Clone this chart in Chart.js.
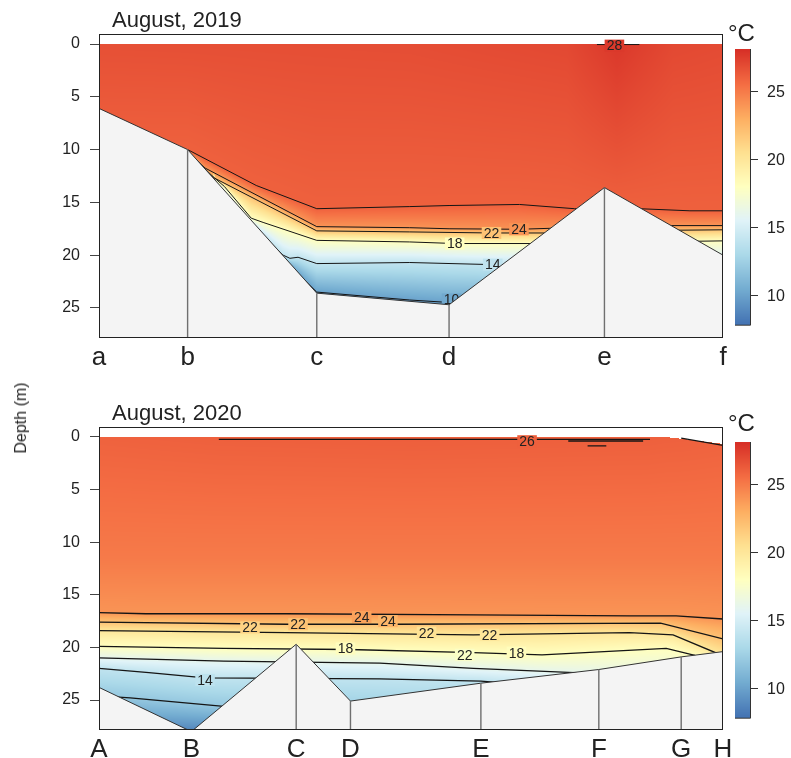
<!DOCTYPE html>
<html>
<head>
<meta charset="utf-8">
<script src="https://cdn.jsdelivr.net/npm/chart.js@4.4.0/dist/chart.umd.min.js"></script>
<style>
  body { margin: 0; background: #fff; width: 791px; height: 758px; position: relative; overflow: hidden;
         font-family: "Liberation Sans", Arial, sans-serif; }
  canvas { position: absolute; left: 0; }
  #c1 { top: 0; }
  #c2 { top: 390px; }
  #ylab { position: absolute; left: 21px; top: 418px; transform: translate(-50%, -50%) rotate(-90deg);
          font-size: 16px; color: #222; white-space: nowrap; }
</style>
</head>
<body>
<canvas id="c1" width="791" height="390"></canvas>
<canvas id="c2" width="791" height="368"></canvas>
<div id="ylab">Depth (m)</div>
<script>
// Distance along each section is scaled 0-100 between the end stations
const depthTicks = [0, 5, 10, 15, 20, 25];
const tempTicks = [10, 15, 20, 25];

// colour scale (RdYlBu, reversed)
const cmapTemps = [8, 10.5, 13, 15.5, 18, 20.5, 23, 25.5, 28];
const cmapColors = ['#4575b4', '#74add1', '#abd9e9', '#e0f3f8', '#ffffbf', '#fee090', '#fdae61', '#f46d43', '#d73027'];

// ---- August 2019 ----
const stations2019 = ['a', 'b', 'c', 'd', 'e', 'f'];
const stationDist2019 = [0, 14.2, 34.9, 56.1, 81.0, 100];
const bottomDepth2019 = [6.1, 10.0, 23.6, 24.7, 13.6, 20.0];
const topDist2019 = [0, 100];
const topDepth2019 = [0, 0];
const surfDist2019 = [0, 50, 75, 79.8, 83, 86.6, 92, 100];
const surfTemp2019 = [26.7, 26.8, 27.0, 27.4, 27.7, 27.4, 27.0, 26.9];
const bottomTemp2019 = 8.5;
const isoTemp2019 = [26, 24, 22, 18, 14, 10];
const isoDraw2019 = [true, true, true, true, true, true];
const isoDist2019 = [
  [14.2, 25.2, 34.9, 49.8, 56.1, 67.4, 76.2, 81, 86.6, 94.7, 100],
  [14.2, 17.0, 34.9, 49.8, 56.1, 67.3, 81, 88, 100],
  [14.2, 18.5, 34.9, 49.8, 62.9, 75, 81, 100],
  [14.2, 20.1, 24.4, 26.3, 34.9, 49.8, 57.0, 70, 81, 100],
  [14.2, 29.5, 30.6, 31.9, 34.9, 49.8, 63.1, 100],
  [14.2, 34.9, 49.8, 56.5, 100]
];
const isoDepth2019 = [
  [10.0, 13.4, 15.6, 15.4, 15.3, 15.2, 15.6, 15.6, 15.6, 15.8, 15.8],
  [10.1, 11.75, 17.3, 17.4, 17.5, 17.55, 17.3, 17.2, 17.2],
  [10.2, 12.7, 17.7, 17.8, 17.9, 17.9, 17.7, 17.6],
  [10.5, 13.5, 16.5, 16.9, 18.6, 18.75, 18.9, 18.9, 18.8, 18.65],
  [11.0, 20.0, 20.3, 20.2, 20.8, 20.7, 20.9, 21.0],
  [11.5, 23.5, 24.25, 24.5, 25.0]
];
const extraDist2019 = [79.8, 86.6];          // small 28 degree patch at the surface
const extraDepth2019 = [0.05, 0.05];
const labelText2019 = ['28', '24', '22', '18', '14', '10'];
const labelDist2019 = [82.6, 67.3, 62.9, 57.0, 63.1, 56.5];
const labelDepth2019 = [0.15, 17.55, 17.9, 18.9, 20.9, 24.2];

// ---- August 2020 ----
const stations2020 = ['A', 'B', 'C', 'D', 'E', 'F', 'G', 'H'];
const stationDist2020 = [0, 14.8, 31.6, 40.3, 61.2, 80.1, 93.3, 100];
const bottomDepth2020 = [23.8, 28.0, 19.7, 25.1, 23.4, 22.1, 20.9, 20.4];
const topDist2020 = [0, 90.9, 100];
const topDepth2020 = [0, 0, 0.65];
const surfDist2020 = [0, 19.2, 50, 88, 93.3, 100];
const surfTemp2020 = [25.95, 26.05, 26.1, 26.05, 26.0, 25.9];
const bottomTemp2020 = 8.6;
const isoTemp2020 = [25, 24, 22, 20, 18, 16, 14, 12];
const isoDraw2020 = [false, true, true, true, true, true, true, true];
const isoDist2020 = [
  [0, 100],
  [0, 7.5, 30, 60, 85, 92.5, 100],
  [0, 30, 48, 90, 100],
  [0, 30, 60, 85, 92, 100],
  [0, 20, 40, 60, 71, 90.9, 95.5, 100],
  [0, 20, 45, 60, 80, 100],
  [0, 8, 17, 45, 61.2, 70, 100],
  [0, 5, 20, 32, 50, 100]
];
const isoDepth2020 = [
  [11.5, 11.5],
  [16.7, 16.8, 16.8, 16.9, 17.0, 17.0, 17.3],
  [17.6, 17.8, 17.8, 17.7, 19.2],
  [18.4, 18.6, 18.8, 18.6, 18.8, 20.8],
  [19.9, 20.1, 20.2, 20.5, 20.7, 20.1, 20.75, 21.3],
  [21.0, 21.3, 21.5, 22.0, 22.5, 23.0],
  [22.0, 22.4, 22.9, 23.0, 23.2, 23.6, 24.5],
  [24.6, 24.8, 25.6, 26.0, 26.5, 27.0]
];
// 26 degree contour pieces near the surface (null = break)
const extraDist2020 = [19.2, 88.3, 88.3, 75.2, 87.2, 87.2, 78.3, 81.3, 81.3, 93.3, 100];
const extraDepth2020 = [0.22, 0.22, null, 0.38, 0.38, null, 0.85, 0.85, null, 0.1, 0.8];
const labelText2020 = ['26', '24', '24', '22', '22', '22', '22', '22', '18', '18', '14'];
const labelDist2020 = [68.6, 42.1, 46.3, 24.2, 31.9, 52.5, 62.6, 58.6, 39.5, 66.9, 17.0];
const labelDepth2020 = [0.4, 17.1, 17.5, 18.1, 17.8, 18.6, 18.8, 20.7, 20.1, 20.5, 23.1];

const FONT = '"Liberation Sans", Arial, sans-serif';
Chart.defaults.font.family = FONT;

const cmapRgb = cmapColors.map(h => [1, 3, 5].map(i => parseInt(h.substr(i, 2), 16)));

function interp(xs, ys, x) {
  if (x <= xs[0]) return ys[0];
  for (let i = 1; i < xs.length; i++) {
    if (x <= xs[i]) {
      const f = (x - xs[i - 1]) / (xs[i] - xs[i - 1]);
      return ys[i - 1] + f * (ys[i] - ys[i - 1]);
    }
  }
  return ys[ys.length - 1];
}

function tempColor(t) {
  const v = Math.max(cmapTemps[0], Math.min(cmapTemps[cmapTemps.length - 1], t));
  let i = 1;
  while (i < cmapTemps.length - 1 && v > cmapTemps[i]) i++;
  const f = (v - cmapTemps[i - 1]) / (cmapTemps[i] - cmapTemps[i - 1]);
  const a = cmapRgb[i - 1], b = cmapRgb[i];
  return [0, 1, 2].map(k => Math.round(a[k] + f * (b[k] - a[k])));
}

// vertical temperature profile at a distance: [depth, temp] pairs
function profileAt(sec, d) {
  const top = interp(sec.topDist, sec.topDepth, d);
  const pts = [];
  sec.isoTemp.forEach((t, i) => {
    const z = interp(sec.isoDist[i], sec.isoDepth[i], d);
    if (z > top) pts.push([z, t]);
  });
  pts.sort((p, q) => p[0] - q[0]);
  return { top, pts: [[top, interp(sec.surfDist, sec.surfTemp, d)], ...pts, [28, sec.bottomTemp]] };
}

function tempInProfile(prof, z) {
  const p = prof.pts;
  if (z <= p[0][0]) return p[0][1];
  for (let i = 1; i < p.length; i++) {
    if (z <= p[i][0]) {
      const [z0, t0] = p[i - 1], [z1, t1] = p[i];
      return z1 > z0 ? t0 + (t1 - t0) * (z - z0) / (z1 - z0) : t1;
    }
  }
  return p[p.length - 1][1];
}

function sectionPlugin(sec) {
  return {
    id: 'section',
    beforeDatasetsDraw(chart) {
      const { ctx, chartArea: a, scales: { x, y } } = chart;
      const w = Math.round(a.right - a.left), h = Math.round(a.bottom - a.top);
      const img = ctx.createImageData(w, h);
      for (let i = 0; i < w; i++) {
        const prof = profileAt(sec, x.getValueForPixel(a.left + i + 0.5));
        for (let j = 0; j < h; j++) {
          const z = y.getValueForPixel(a.top + j + 0.5);
          if (z < prof.top) continue;
          const c = tempColor(tempInProfile(prof, z));
          const k = (j * w + i) * 4;
          img.data[k] = c[0]; img.data[k + 1] = c[1]; img.data[k + 2] = c[2]; img.data[k + 3] = 255;
        }
      }
      const off = document.createElement('canvas');
      off.width = w; off.height = h;
      off.getContext('2d').putImageData(img, 0, 0);
      ctx.drawImage(off, Math.round(a.left), Math.round(a.top));
    },
    afterDatasetDraw(chart, args) {
      const ds = chart.data.datasets[args.index];
      if (!ds.isLabels) return;
      const ctx = chart.ctx;
      ctx.save();
      ctx.font = '14px ' + FONT;
      ctx.textAlign = 'center';
      ctx.textBaseline = 'middle';
      args.meta.data.forEach((pt, i) => {
        const txt = sec.labelText[i];
        const tw = ctx.measureText(txt).width;
        const c = tempColor(tempInProfile(profileAt(sec, sec.labelDist[i]), sec.labelDepth[i]));
        ctx.fillStyle = `rgb(${c[0]},${c[1]},${c[2]})`;
        ctx.fillRect(pt.x - tw / 2 - 2, pt.y - 6, tw + 4, 12);
        ctx.fillStyle = '#222';
        ctx.fillText(txt, pt.x, pt.y + 1);
      });
      ctx.restore();
    },
    afterDraw(chart) {
      const { ctx, chartArea: a } = chart;
      ctx.save();
      // frame
      ctx.strokeStyle = '#222';
      ctx.lineWidth = 1;
      ctx.strokeRect(a.left + 0.5, a.top + 0.5, a.right - a.left - 1, a.bottom - a.top - 1);
      // title
      ctx.fillStyle = '#222';
      ctx.font = '22px ' + FONT;
      ctx.textAlign = 'left';
      ctx.textBaseline = 'alphabetic';
      ctx.fillText(sec.title, 112, sec.titleY);
      // colour bar
      const cbL = 735, cbR = 750, cbT = a.top + 15, cbB = a.top + 290.7;
      const tTop = 28.1, tBot = 7.85;
      for (let py = cbT; py < cbB; py++) {
        const t = tTop - (py + 0.5 - cbT) / (cbB - cbT) * (tTop - tBot);
        const c = tempColor(t);
        ctx.fillStyle = `rgb(${c[0]},${c[1]},${c[2]})`;
        ctx.fillRect(cbL, py, cbR - cbL, 1);
      }
      ctx.strokeStyle = '#333';
      ctx.beginPath();
      ctx.moveTo(cbR + 0.5, cbT); ctx.lineTo(cbR + 0.5, cbB + 0.5); ctx.lineTo(cbL, cbB + 0.5);
      ctx.stroke();
      ctx.font = '16px ' + FONT;
      ctx.textBaseline = 'middle';
      ctx.fillStyle = '#222';
      tempTicks.forEach(t => {
        const py = Math.round(cbT + (tTop - t) / (tTop - tBot) * (cbB - cbT)) + 0.5;
        ctx.beginPath(); ctx.moveTo(cbR, py); ctx.lineTo(cbR + 8, py); ctx.stroke();
        ctx.fillText(String(t), 767, py + 1);
      });
      ctx.font = '24px ' + FONT;
      ctx.textBaseline = 'alphabetic';
      ctx.fillText('\u00B0C', 728, 40.5);
      ctx.restore();
    }
  };
}

function makeChart(canvasId, sec, padTop, axisHeight) {
  const yMax = 27.85;
  const stationPts = [];
  sec.stationDist.forEach((d, i) => {
    stationPts.push({ x: d, y: sec.bottom[i] }, { x: d, y: yMax + 1 }, { x: d, y: null });
  });
  const datasets = [
    { data: stationPts, borderColor: '#6f6f6f', borderWidth: 1.4, pointRadius: 0, fill: false, order: 0 },
    { data: sec.stationDist.map((d, i) => ({ x: d, y: sec.bottom[i] })), borderColor: '#333', borderWidth: 1,
      backgroundColor: '#f4f4f4', fill: 'start', pointRadius: 0, order: 1 },
    { isLabels: true, data: sec.labelDist.map((d, i) => ({ x: d, y: sec.labelDepth[i] })),
      showLine: false, pointRadius: 0, order: 2 }
  ];
  sec.isoTemp.forEach((t, i) => {
    if (!sec.isoDraw[i]) return;
    datasets.push({ data: sec.isoDist[i].map((d, k) => ({ x: d, y: sec.isoDepth[i][k] })),
      borderColor: '#151515', borderWidth: sec.lineWidth, pointRadius: 0, fill: false, order: 3 });
  });
  datasets.push({ data: sec.extraDist.map((d, k) => ({ x: d, y: sec.extraDepth[k] })),
    borderColor: '#151515', borderWidth: sec.lineWidth, pointRadius: 0, fill: false, order: 3 });

  return new Chart(document.getElementById(canvasId), {
    type: 'line',
    data: { datasets },
    options: {
      responsive: false,
      animation: false,
      events: [],
      spanGaps: false,
      layout: { padding: { left: 0, right: 68, top: padTop, bottom: 0 } },
      plugins: { legend: { display: false }, tooltip: { enabled: false } },
      scales: {
        x: {
          type: 'linear', min: 0, max: 100,
          grid: { display: false, drawTicks: false },
          border: { display: false },
          afterBuildTicks: s => { s.ticks = sec.stationDist.map(v => ({ value: v })); },
          afterFit: s => { s.height = axisHeight; },
          ticks: { autoSkip: false, maxRotation: 0, padding: 4, color: '#222', font: { size: 26 },
                   callback: (v, i) => sec.stations[i] }
        },
        y: {
          type: 'linear', reverse: true, min: -0.95, max: yMax,
          afterBuildTicks: s => { s.ticks = depthTicks.map(v => ({ value: v })); },
          afterFit: s => { s.width = 99; },
          grid: { drawOnChartArea: false, drawTicks: true, tickLength: 9, color: '#444' },
          border: { display: false },
          ticks: { padding: 10, color: '#222', font: { size: 16 } }
        }
      }
    },
    plugins: [sectionPlugin(sec)]
  });
}

const sec2019 = {
  title: 'August, 2019', titleY: 26.7, lineWidth: 1,
  stations: stations2019, stationDist: stationDist2019, bottom: bottomDepth2019,
  topDist: topDist2019, topDepth: topDepth2019, surfDist: surfDist2019, surfTemp: surfTemp2019,
  bottomTemp: bottomTemp2019, isoTemp: isoTemp2019, isoDraw: isoDraw2019,
  isoDist: isoDist2019, isoDepth: isoDepth2019, extraDist: extraDist2019, extraDepth: extraDepth2019,
  labelText: labelText2019, labelDist: labelDist2019, labelDepth: labelDepth2019
};
const sec2020 = {
  title: 'August, 2020', titleY: 30, lineWidth: 1.3,
  stations: stations2020, stationDist: stationDist2020, bottom: bottomDepth2020,
  topDist: topDist2020, topDepth: topDepth2020, surfDist: surfDist2020, surfTemp: surfTemp2020,
  bottomTemp: bottomTemp2020, isoTemp: isoTemp2020, isoDraw: isoDraw2020,
  isoDist: isoDist2020, isoDepth: isoDepth2020, extraDist: extraDist2020, extraDepth: extraDepth2020,
  labelText: labelText2020, labelDist: labelDist2020, labelDepth: labelDepth2020
};

makeChart('c1', sec2019, 34, 52);
makeChart('c2', sec2020, 37, 28);
</script>
</body>
</html>
